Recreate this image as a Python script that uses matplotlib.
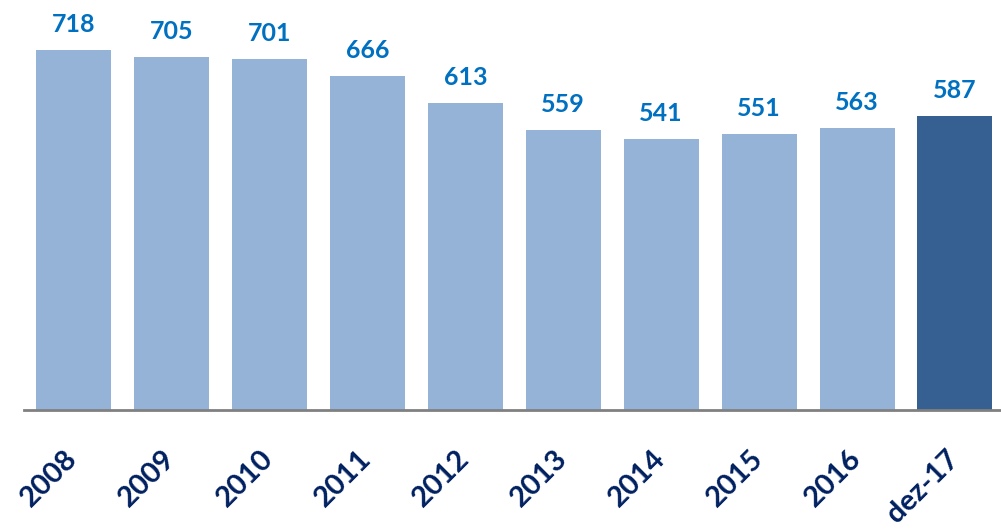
import matplotlib.pyplot as plt

# data
categories = ["2008", "2009", "2010", "2011", "2012", "2013", "2014", "2015", "2016", "dez-17"]
values = [718, 705, 701, 666, 613, 559, 541, 551, 563, 587]

light = "#95B3D7"
dark = "#376092"
colors = [light] * (len(values) - 1) + [dark]

plt.rcParams["font.family"] = ["Lato", "DejaVu Sans"]

fig = plt.figure(figsize=(10.01, 5.30), dpi=100)
ax = fig.add_axes([0.024, 0.2264, 0.976, 0.7736])

x = range(len(categories))
ax.bar(x, values, width=0.766, color=colors, zorder=2)

# value labels above bars
for i, v in zip(x, values):
    ax.annotate(str(v), (i, v), xytext=(0, 13), textcoords="offset points",
                ha="center", va="baseline", fontsize=18, fontweight="bold",
                color="#0070C0")

ax.set_xlim(-0.505, 9.47)
ax.set_ylim(0, 818)

ax.set_xticks(list(x))
ax.set_xticklabels(categories, rotation=45, ha="right", va="center",
                   rotation_mode="anchor", fontsize=21, fontweight="bold",
                   color="#002060")
ax.tick_params(axis="x", length=0, pad=32)
ax.set_yticks([])

for side in ["top", "right", "left"]:
    ax.spines[side].set_visible(False)
ax.spines["bottom"].set_color("#808080")
ax.spines["bottom"].set_linewidth(2)

fig.savefig("out.png", dpi=100)
